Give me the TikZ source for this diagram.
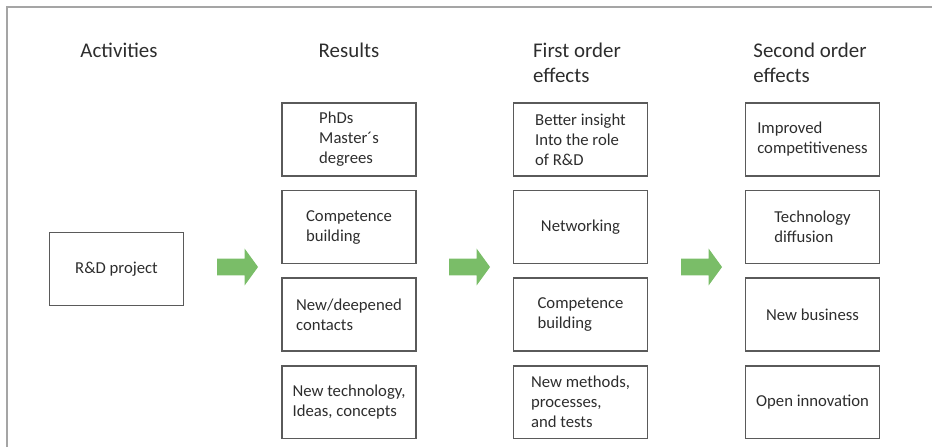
\documentclass[tikz,border=0pt]{standalone}
\usepackage{fontspec}
\setmainfont{Carlito}
\usetikzlibrary{positioning,shapes.arrows}

\definecolor{arrowgreen}{RGB}{122,189,104}
\definecolor{boxgray}{RGB}{90,90,90}
\definecolor{framegray}{RGB}{165,165,165}
\definecolor{textgray}{RGB}{45,45,45}

\begin{document}
\begin{tikzpicture}[x=0.02cm,y=-0.02cm,
    effectbox/.style={draw=boxgray,line width=0.9pt,minimum width=2.68cm,minimum height=1.46cm,
        align=left,text=textgray,inner sep=0pt,font=\fontsize{9.5}{11.4}\selectfont},
    heading/.style={anchor=north,align=left,text=textgray,inner sep=0pt,
        font=\fontsize{11.9}{14.2}\selectfont},
    blockarrow/.style={single arrow,fill=arrowgreen,draw=none,inner xsep=0pt,inner ysep=0.16cm,
        minimum height=0.82cm,single arrow head extend=0.2cm,
        single arrow tip angle=108}]
            \useasboundingbox (0,0) rectangle (932,447);

            % Frame round the figure
            \draw[framegray,line width=1.6pt] (7,447) -- (7,7) -- (932,7);

            % Column headings
            \node[heading] (hAct) at (119,43) {Activities};
            \node[heading] (hRes) at (349,43) {Results};
            \node[heading] (hFirst) at (577,43) {First order\\effects};
            \node[heading] (hSecond) at (810,43) {Second order\\effects};

            % Activities
            \node[effectbox] (rd) at (116.5,269) {R\&D project};

            % Results
            \node[effectbox] (res1) at (349,139.5) {PhDs\\Master´s\\degrees};
            \node[effectbox, below=0.26cm of res1] (res2) {Competence\\building};
            \node[effectbox, below=0.26cm of res2] (res3) {New/deepened\\contacts};
            \node[effectbox, below=0.26cm of res3] (res4) {New technology,\\Ideas, concepts};

            % First order effects
            \node[effectbox] (fo1) at (580.5,139.5) {Better insight\\Into the role\\of R\&D};
            \node[effectbox, below=0.26cm of fo1] (fo2) {Networking};
            \node[effectbox, below=0.26cm of fo2] (fo3) {Competence\\building};
            \node[effectbox, below=0.26cm of fo3] (fo4) {New methods,\\processes,\\and tests};

            % Second order effects
            \node[effectbox] (so1) at (812.5,139.5) {Improved\\competitiveness};
            \node[effectbox, below=0.26cm of so1] (so2) {Technology\\diffusion};
            \node[effectbox, below=0.26cm of so2] (so3) {New business};
            \node[effectbox, below=0.26cm of so3] (so4) {Open innovation};

            % Green block arrows between the columns
            \node[blockarrow] (arr1) at (234.5,267) {};
            \node[blockarrow] (arr2) at (466.5,267) {};
            \node[blockarrow] (arr3) at (698.5,267) {};
        \end{tikzpicture}
\end{document}
